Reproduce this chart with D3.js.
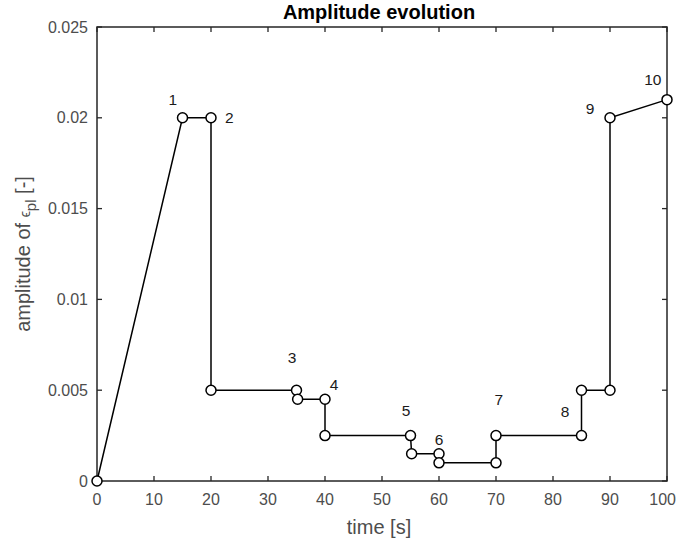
<!DOCTYPE html>
<html>
<head>
<meta charset="utf-8">
<script src="https://cdn.jsdelivr.net/npm/d3@7"></script>
<style>
  body { margin: 0; background: #fff; }
  text { font-family: "Liberation Sans", Arial, sans-serif; }
</style>
</head>
<body>
<svg id="chart" width="677" height="545"></svg>
<script>
const times   = [0, 15, 20, 20, 35, 35.2, 40, 40, 55, 55.2, 60, 60, 70, 70, 85, 85, 90, 90, 100];
const amps    = [0, 0.02, 0.02, 0.005, 0.005, 0.0045, 0.0045, 0.0025, 0.0025, 0.0015, 0.0015, 0.001, 0.001, 0.0025, 0.0025, 0.005, 0.005, 0.02, 0.021];

const labelText = ["1", "2", "3", "4", "5", "6", "7", "8", "9", "10"];
const labelT    = [13.3, 23.2, 34.2, 41.6, 54.2, 60, 70.5, 82.1, 86.5, 97.5];
const labelA    = [0.021, 0.02, 0.0068, 0.0053, 0.0039, 0.0023, 0.0045, 0.0038, 0.0205, 0.0221];

const xTicks = [0, 10, 20, 30, 40, 50, 60, 70, 80, 90, 100];
const yTicks = [0, 0.005, 0.01, 0.015, 0.02, 0.025];

const margin = { left: 97, right: 10, top: 27, bottom: 64 };
const W = 677, H = 545;
const svg = d3.select("#chart");

const x = d3.scaleLinear().domain([0, 100]).range([margin.left, W - margin.right]);
const y = d3.scaleLinear().domain([0, 0.025]).range([H - margin.bottom, margin.top]);

const AXIS_COL = "#262626";
const TICK_COL = "#4d4d4d";
const TICK_LEN = 5;

// box
svg.append("rect")
   .attr("x", x(0)).attr("y", y(0.025))
   .attr("width", x(100) - x(0)).attr("height", y(0) - y(0.025))
   .attr("fill", "none").attr("stroke", AXIS_COL).attr("stroke-width", 1.5);

// ticks (inside, on all four sides)
const tg = svg.append("g").attr("stroke", AXIS_COL).attr("stroke-width", 1.3);
xTicks.forEach(t => {
  tg.append("line").attr("x1", x(t)).attr("x2", x(t)).attr("y1", y(0)).attr("y2", y(0) - TICK_LEN);
  tg.append("line").attr("x1", x(t)).attr("x2", x(t)).attr("y1", y(0.025)).attr("y2", y(0.025) + TICK_LEN);
});
yTicks.forEach(t => {
  tg.append("line").attr("x1", x(0)).attr("x2", x(0) + TICK_LEN).attr("y1", y(t)).attr("y2", y(t));
  tg.append("line").attr("x1", x(100)).attr("x2", x(100) - TICK_LEN).attr("y1", y(t)).attr("y2", y(t));
});

// tick labels (the last one is pulled in so it stays inside the window)
svg.append("g").selectAll("text").data(xTicks).enter().append("text")
   .attr("x", d => d === 100 ? W - 1 : x(d)).attr("y", y(0) + 24)
   .attr("text-anchor", d => d === 100 ? "end" : "middle")
   .attr("font-size", 16).attr("fill", TICK_COL)
   .text(d => d);

svg.append("g").selectAll("text").data(yTicks).enter().append("text")
   .attr("x", x(0) - 9).attr("y", d => y(d))
   .attr("dy", "0.35em")
   .attr("text-anchor", "end")
   .attr("font-size", 16).attr("fill", TICK_COL)
   .text(d => d3.format("~g")(d));

// axis titles
svg.append("text")
   .attr("x", (x(0) + x(100)) / 2 - 3).attr("y", 534)
   .attr("text-anchor", "middle")
   .attr("font-size", 20).attr("fill", TICK_COL)
   .text("time [s]");

const yl = svg.append("text")
   .attr("transform", `translate(30,${(y(0) + y(0.025)) / 2}) rotate(-90)`)
   .attr("text-anchor", "middle")
   .attr("font-size", 20).attr("fill", TICK_COL);
yl.append("tspan").text("amplitude of ");
yl.append("tspan").attr("font-size", 14).text("\u03F5");
yl.append("tspan").attr("font-size", 15).attr("dy", 6).text("pl");
yl.append("tspan").attr("dy", -6).text(" [-]");

svg.append("text")
   .attr("x", (x(0) + x(100)) / 2 - 3).attr("y", 19)
   .attr("text-anchor", "middle")
   .attr("font-size", 20).attr("font-weight", "bold").attr("fill", "#000")
   .text("Amplitude evolution");

// line + markers
const pts = times.map((t, i) => [t, amps[i]]);
svg.append("path")
   .datum(pts)
   .attr("fill", "none").attr("stroke", "#000").attr("stroke-width", 1.5)
   .attr("d", d3.line().x(d => x(d[0])).y(d => y(d[1])));

svg.append("g").selectAll("circle").data(pts).enter().append("circle")
   .attr("cx", d => x(d[0])).attr("cy", d => y(d[1]))
   .attr("r", 5)
   .attr("fill", "#fff").attr("stroke", "#000").attr("stroke-width", 1.5);

// point numbers
svg.append("g").selectAll("text").data(labelText).enter().append("text")
   .attr("x", (d, i) => x(labelT[i])).attr("y", (d, i) => y(labelA[i]))
   .attr("dy", "0.35em")
   .attr("text-anchor", "middle")
   .attr("font-size", 15.5).attr("fill", "#1a1a1a")
   .text(d => d);
</script>
</body>
</html>
